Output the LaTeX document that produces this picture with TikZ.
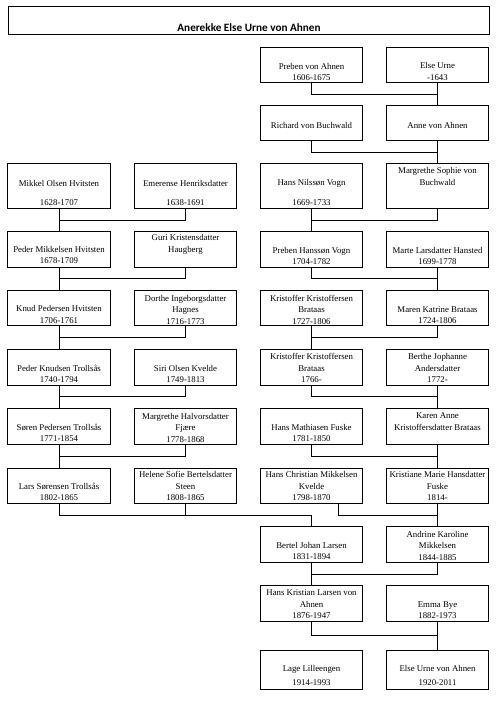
\documentclass[tikz,border=0pt]{standalone}
\usepackage{fontspec}
\setmainfont{Liberation Serif}
\newfontfamily\titlefont{Carlito}
\begin{document}
\begin{tikzpicture}[x=1pt,y=-1pt,
  box/.style={draw, line width=0.8pt, inner sep=0pt, outer sep=0pt, minimum width=102.5pt},
  txt/.style={align=center, inner sep=0pt, font=\fontsize{8.8}{11.5}\selectfont},
  link/.style={line width=0.8pt}]
\useasboundingbox (0,0) rectangle (498,701);
% title
\node[draw, line width=1pt, inner sep=0pt, outer sep=0pt, minimum width=481pt, minimum height=28pt] (titlebox) at (248.5,21) {};
\node[anchor=base, inner sep=0pt, font=\titlefont\bfseries\fontsize{11.2}{13}\selectfont] (title) at (249,32) {Anerekke Else Urne von Ahnen};
% levels of the horizontal links
\coordinate (h0) at (0,94);
\coordinate (h1) at (0,152);
\coordinate (h2) at (0,220);
\coordinate (h3) at (0,278);
\coordinate (h4) at (0,337);
\coordinate (h5) at (0,396);
\coordinate (h6) at (0,456);
\coordinate (h7) at (0,515);
\coordinate (h8) at (0,574);
\coordinate (h9) at (0,635);
% row 0
\node[box, minimum height=35pt] (r0c) at (311.5,64.5) {};
\node[box, minimum height=35pt] (r0d) at (437.5,64.5) {};
\node[txt] (t0c) at (311.5,72) {Preben von Ahnen\\1606-1675};
\node[txt] (t0d) at (437.5,71.5) {Else Urne\\-1643};
% row 1
\node[box, minimum height=35pt] (r1c) at (311.5,122.5) {};
\node[box, minimum height=35pt] (r1d) at (437.5,122.5) {};
\node[txt] (t1c) at (311.5,125) {Richard von Buchwald};
\node[txt] (t1d) at (437.5,125) {Anne von Ahnen};
% row 2
\node[box, minimum height=45pt] (r2a) at (59,185.5) {};
\node[box, minimum height=45pt] (r2b) at (185.5,185.5) {};
\node[box, minimum height=45pt] (r2c) at (311.5,185.5) {};
\node[box, minimum height=45pt] (r2d) at (437.5,185.5) {};
\node[txt] (t2a) at (59,192.5) {Mikkel Olsen Hvitsten\\[7.5pt]1628-1707};
\node[txt] (t2b) at (185.5,192.5) {Emerense Henriksdatter\\[7.5pt]1638-1691};
\node[txt] (t2c) at (311.5,192) {Hans Nilss\o n Vogn\\[8.5pt]1669-1733};
\node[txt] (t2d) at (437.5,176.5) {Margrethe Sophie von\\Buchwald};
% row 3
\node[box, minimum height=36pt] (r3a) at (59,249) {};
\node[box, minimum height=36pt] (r3b) at (185.5,249) {};
\node[box, minimum height=36pt] (r3c) at (311.5,249) {};
\node[box, minimum height=36pt] (r3d) at (437.5,249) {};
\node[txt] (t3a) at (59,255) {Peder Mikkelsen Hvitsten\\1678-1709};
\node[txt] (t3b) at (185.5,244.5) {Guri Kristensdatter\\Haugberg};
\node[txt] (t3c) at (311.5,256) {Preben Hanss\o n Vogn\\1704-1782};
\node[txt] (t3d) at (437.5,256) {Marte Larsdatter Hansted\\1699-1778};
% row 4
\node[box, minimum height=35pt] (r4a) at (59,307.5) {};
\node[box, minimum height=35pt] (r4b) at (185.5,307.5) {};
\node[box, minimum height=35pt] (r4c) at (311.5,307.5) {};
\node[box, minimum height=35pt] (r4d) at (437.5,307.5) {};
\node[txt] (t4a) at (59,314.5) {Knud Pedersen Hvitsten\\1706-1761};
\node[txt] (t4b) at (185.5,309.5) {Dorthe Ingeborgsdatter\\Hagnes\\1716-1773};
\node[txt] (t4c) at (311.5,309.5) {Kristoffer Kristoffersen\\Brataas\\1727-1806};
\node[txt] (t4d) at (437.5,315) {Maren Katrine Brataas\\1724-1806};
% row 5
\node[box, minimum height=36pt] (r5a) at (59,367) {};
\node[box, minimum height=36pt] (r5b) at (185.5,367) {};
\node[box, minimum height=36pt] (r5c) at (311.5,367) {};
\node[box, minimum height=36pt] (r5d) at (437.5,367) {};
\node[txt] (t5a) at (59,374) {Peder Knudsen Trolls\aa s\\1740-1794};
\node[txt] (t5b) at (185.5,374) {Siri Olsen Kvelde\\1749-1813};
\node[txt] (t5c) at (311.5,368) {Kristoffer Kristoffersen\\Brataas\\1766-};
\node[txt] (t5d) at (437.5,368) {Berthe Jophanne\\Andersdatter\\1772-};
% row 6
\node[box, minimum height=36pt] (r6a) at (59,426) {};
\node[box, minimum height=36pt] (r6b) at (185.5,426) {};
\node[box, minimum height=36pt] (r6c) at (311.5,426) {};
\node[box, minimum height=36pt] (r6d) at (437.5,426) {};
\node[txt] (t6a) at (59,433) {S\o ren Pedersen Trolls\aa s\\1771-1854};
\node[txt] (t6b) at (185.5,427.5) {Margrethe Halvorsdatter\\Fj\ae re\\1778-1868};
\node[txt] (t6c) at (311.5,433) {Hans Mathiasen Fuske\\1781-1850};
\node[txt] (t6d) at (437.5,421.5) {Karen Anne\\Kristoffersdatter Brataas};
% row 7
\node[box, minimum height=35pt] (r7a) at (59,485.5) {};
\node[box, minimum height=35pt] (r7b) at (185.5,485.5) {};
\node[box, minimum height=35pt] (r7c) at (311.5,485.5) {};
\node[box, minimum height=35pt] (r7d) at (437.5,485.5) {};
\node[txt] (t7a) at (59,492) {Lars S\o rensen Trolls\aa s\\1802-1865};
\node[txt] (t7b) at (185.5,486) {Helene Sofie Bertelsdatter\\Steen\\1808-1865};
\node[txt] (t7c) at (311.5,486) {Hans Christian Mikkelsen\\Kvelde\\1798-1870};
\node[txt] (t7d) at (437.5,486) {Kristiane Marie Hansdatter\\Fuske\\1814-};
% row 8
\node[box, minimum height=36pt] (r8c) at (311.5,544) {};
\node[box, minimum height=36pt] (r8d) at (437.5,544) {};
\node[txt] (t8c) at (311.5,551) {Bertel Johan Larsen\\1831-1894};
\node[txt] (t8d) at (437.5,545.5) {Andrine Karoline\\Mikkelsen\\1844-1885};
% row 9
\node[box, minimum height=36pt] (r9c) at (311.5,603) {};
\node[box, minimum height=36pt] (r9d) at (437.5,603) {};
\node[txt] (t9c) at (311.5,604.5) {Hans Kristian Larsen von\\Ahnen\\1876-1947};
\node[txt] (t9d) at (437.5,610) {Emma Bye\\1882-1973};
% row 10
\node[box, minimum height=39pt] (r10c) at (311.5,669.5) {};
\node[box, minimum height=39pt] (r10d) at (437.5,669.5) {};
\node[txt] (t10c) at (311.5,675) {Lage Lilleengen\\[2.5pt]1914-1993};
\node[txt] (t10d) at (437.5,675) {Else Urne von Ahnen\\[2.5pt]1920-2011};
% links
\draw[link] (r0c.south) |- (h0 -| r0d.south);
\draw[link] (r0d.south) -- (r1d.north);
\draw[link] (r1c.south) |- (h1 -| r1d.south);
\draw[link] (r1d.south) -- (r2d.north);
\draw[link] (r2b.south) |- (h2 -| r2a.south);
\draw[link] (r2a.south) -- (r3a.north);
\draw[link] (r2d.south) |- (h2 -| r2c.south);
\draw[link] (r2c.south) -- (r3c.north);
\draw[link] (r3b.south) |- (h3 -| r3a.south);
\draw[link] (r3a.south) -- (r4a.north);
\draw[link] (r3c.south) |- (h3 -| r3d.south);
\draw[link] (r3d.south) -- (r4d.north);
\draw[link] (r4b.south) |- (h4 -| r4a.south);
\draw[link] (r4a.south) -- (r5a.north);
\draw[link] (r4d.south) |- (h4 -| r4c.south);
\draw[link] (r4c.south) -- (r5c.north);
\draw[link] (r5b.south) |- (h5 -| r5a.south);
\draw[link] (r5a.south) -- (r6a.north);
\draw[link] (r5c.south) |- (h5 -| r5d.south);
\draw[link] (r5d.south) -- (r6d.north);
\draw[link] (r6b.south) |- (h6 -| r6a.south);
\draw[link] (r6a.south) -- (r7a.north);
\draw[link] (r6c.south) |- (h6 -| r6d.south);
\draw[link] (r6d.south) -- (r7d.north);
\draw[link] (r7a.south) |- (h7 -| r8c.north) -- (r8c.north);
\draw[link] (r7b.south) -- (h7 -| r7b.south);
\coordinate (r7cx) at ([xshift=26.5pt]r7c.south);
\draw[link] (r7cx) |- (h7 -| r7d.south);
\draw[link] (r7d.south) -- (r8d.north);
\draw[link] (r8d.south) |- (h8 -| r8c.south);
\draw[link] (r8c.south) -- (r9c.north);
\draw[link] (r9c.south) |- (h9 -| r9d.south);
\draw[link] (r9d.south) -- (r10d.north);
\end{tikzpicture}
\end{document}
